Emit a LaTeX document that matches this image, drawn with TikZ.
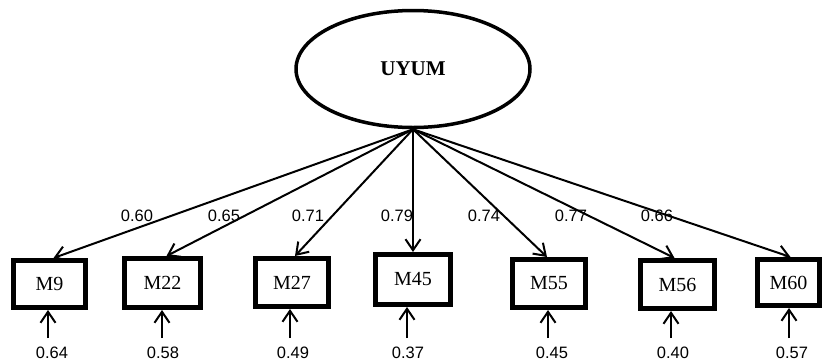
\documentclass[tikz,border=0pt]{standalone}
\usepackage{fontspec}
\setmainfont{Liberation Serif}
\newfontfamily\numfont{Liberation Sans}
\usetikzlibrary{arrows.meta,shapes.geometric}

\tikzset{
  latent/.style={ellipse, draw, line width=3.5pt, inner sep=0pt,
    minimum width=234pt, minimum height=117pt,
    font=\fontsize{21}{24}\selectfont\bfseries},
  itembox/.style={rectangle, draw, line width=5pt, inner sep=0pt,
    font=\fontsize{20}{22}\selectfont},
  loadarrow/.style={line width=2pt, -{Straight Barb[length=11pt,width=15pt,line width=2pt]}},
  errarrow/.style={line width=2pt, -{Straight Barb[length=11pt,width=15pt,line width=2pt]}},
  coef/.style={font=\numfont\fontsize{16.5}{18}\selectfont, inner sep=0pt}
}

\begin{document}
\begin{tikzpicture}[x=1pt,y=-1pt]
  \useasboundingbox (0,0) rectangle (824,362);

  % latent factor
  \node[latent] (u) at (413,69) {UYUM};

  % observed items (centre, outer width minus border, outer height minus border)
  \node[itembox, minimum width=72pt, minimum height=47pt] (m9)  at (49.5,284)  {M9};
  \node[itembox, minimum width=76pt, minimum height=49pt] (m22) at (162.5,283) {M22};
  \node[itembox, minimum width=73pt, minimum height=48pt] (m27) at (292,282.5) {M27};
  \node[itembox, minimum width=75pt, minimum height=50pt] (m45) at (413,279.5) {M45};
  \node[itembox, minimum width=73pt, minimum height=48pt] (m55) at (549,283.5) {M55};
  \node[itembox, minimum width=74pt, minimum height=48pt] (m56) at (677.5,284.5) {M56};
  \node[itembox, minimum width=62pt, minimum height=46pt] (m60) at (788.5,282.5) {M60};

  % factor loadings
  \draw[loadarrow] (u.south) -- ([xshift=4pt]m9.north);
  \draw[loadarrow] (u.south) -- ([xshift=4pt]m22.north);
  \draw[loadarrow] (u.south) -- ([xshift=3pt]m27.north);
  \draw[loadarrow] (u.south) -- (m45.north);
  \draw[loadarrow] (u.south) -- ([xshift=-2pt]m55.north);
  \draw[loadarrow] (u.south) -- ([xshift=-3pt]m56.north);
  \draw[loadarrow] (u.south) -- ([xshift=2pt]m60.north);

  \node[coef] (l9)  at (137,216) {0.60};
  \node[coef] (l22) at (224,216) {0.65};
  \node[coef] (l27) at (308,216) {0.71};
  \node[coef] (l45) at (397,216) {0.79};
  \node[coef] (l55) at (484,216) {0.74};
  \node[coef] (l56) at (571,216) {0.77};
  \node[coef] (l60) at (657,216) {0.66};

  % error terms
  \coordinate (e9)  at (48,338);
  \coordinate (e22) at (162,338);
  \coordinate (e27) at (290,338);
  \coordinate (e45) at (407,338);
  \coordinate (e55) at (548,338);
  \coordinate (e56) at (671,338);
  \coordinate (e60) at (789,338);

  \draw[errarrow] (e9)  -- (e9  |- m9.south);
  \draw[errarrow] (e22) -- (e22 |- m22.south);
  \draw[errarrow] (e27) -- (e27 |- m27.south);
  \draw[errarrow] (e45) -- (e45 |- m45.south);
  \draw[errarrow] (e55) -- (e55 |- m55.south);
  \draw[errarrow] (e56) -- (e56 |- m56.south);
  \draw[errarrow] (e60) -- (e60 |- m60.south);

  \node[coef] (r9)  at (52,353)  {0.64};
  \node[coef] (r22) at (163,353) {0.58};
  \node[coef] (r27) at (293,353) {0.49};
  \node[coef] (r45) at (408,353) {0.37};
  \node[coef] (r55) at (552,353) {0.45};
  \node[coef] (r56) at (673,353) {0.40};
  \node[coef] (r60) at (792,353) {0.57};
\end{tikzpicture}
\end{document}
